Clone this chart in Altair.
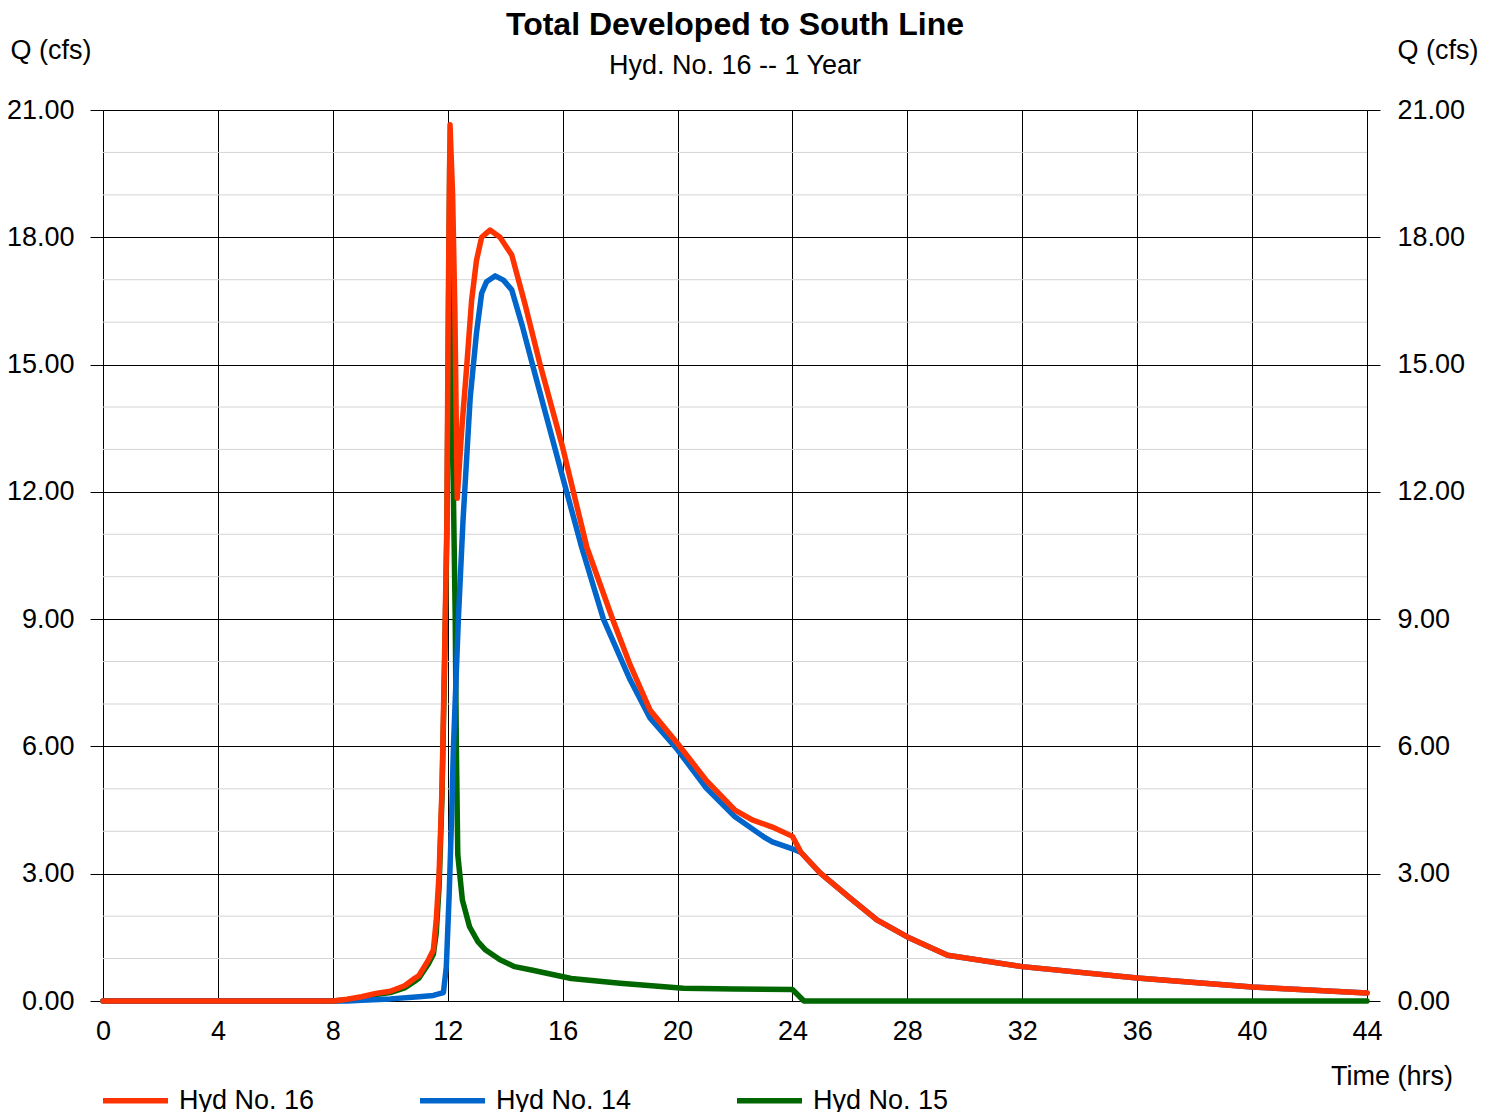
import altair as alt
import pandas as pd

TITLE = "Total Developed to South Line"
SUBTITLE = "Hyd. No. 16 -- 1 Year"
Y_TITLE = "Q (cfs)"
X_TITLE = "Time (hrs)"

SERIES = ["Hyd No. 16", "Hyd No. 14", "Hyd No. 15"]
COLORS = ["#FF3300", "#0066CC", "#006600"]

# Hyd No. 16 (total)
T16 = [0, 8, 8.5, 9, 9.5, 10, 10.5, 10.84, 11, 11.33, 11.5, 11.6, 11.7, 11.8, 11.9,
       11.97, 12.02, 12.08, 12.17, 12.25, 12.33, 12.48, 12.66, 12.83, 13.0, 13.18,
       13.47, 13.82, 14.23, 14.7, 15.2, 16.0, 16.84, 17.75, 18.35, 19.04, 20.0, 21.0, 22.0,
       22.6, 23.3, 24.0, 24.3, 24.96, 26.0, 26.94, 28.0, 29.4, 32.0, 36.0, 40.0, 44.0]
Q16 = [0, 0, 0.04, 0.1, 0.18, 0.23, 0.36, 0.53, 0.6, 0.97, 1.2, 1.9, 3.0, 5.0, 8.5,
       11.3, 16.5, 20.65, 19.0, 16.2, 11.85, 13.4, 14.95, 16.5, 17.45, 18.0,
       18.17, 18.0, 17.58, 16.4, 15.04, 13.05, 10.7, 8.98, 7.92, 6.86, 6.07, 5.2, 4.5,
       4.27, 4.1, 3.88, 3.5, 3.02, 2.43, 1.91, 1.51, 1.08, 0.81, 0.54, 0.33, 0.19]

# Hyd No. 14
T14 = [0, 8.5, 9, 10, 11, 11.5, 11.85, 11.95, 12.05, 12.12, 12.2, 12.37, 12.53, 12.78,
       13.0, 13.18, 13.35, 13.65, 13.94, 14.23, 14.6, 14.97, 16.0, 16.66, 17.42, 18.35, 19.04,
       20.0, 21.0, 22.0, 23.0, 23.3, 24.1, 24.3, 24.96, 26.0, 26.94, 28.0, 29.4, 32.0,
       36.0, 40.0, 44.0]
Q14 = [0, 0, 0.02, 0.05, 0.1, 0.13, 0.2, 0.8, 2.5, 4.0, 6.0, 9.0, 11.3, 14.2,
       15.74, 16.68, 16.95, 17.09, 16.99, 16.76, 15.9, 14.95, 12.35, 10.7, 9.0, 7.57, 6.67,
       5.92, 5.02, 4.34, 3.87, 3.75, 3.56, 3.5, 3.02, 2.43, 1.91, 1.51, 1.08, 0.81,
       0.54, 0.33, 0.19]

# Hyd No. 15
T15 = [0, 8, 8.5, 9, 9.5, 10, 10.5, 10.84, 11, 11.33, 11.5, 11.6, 11.7, 11.8, 11.9,
       11.97, 12.07, 12.12, 12.19, 12.26, 12.3, 12.35, 12.51, 12.76, 13.05, 13.32,
       13.82, 14.33, 15.0, 16.3, 18.0, 20.2, 22.0, 24.0, 24.4, 44.0]
Q15 = [0, 0, 0.03, 0.08, 0.15, 0.2, 0.31, 0.46, 0.54, 0.88, 1.1, 1.6, 2.7, 4.8, 8.2,
       11.0, 19.8, 16.0, 12.3, 9.1, 6.0, 3.45, 2.38, 1.75, 1.4, 1.2,
       0.97, 0.81, 0.72, 0.53, 0.42, 0.3, 0.28, 0.27, 0.0, 0.0]

Y_MAJOR = [0, 3, 6, 9, 12, 15, 18, 21]
Y_MINOR = [1, 2, 4, 5, 7, 8, 10, 11, 13, 14, 16, 17, 19, 20]
X_TICKS = [0, 4, 8, 12, 16, 20, 24, 28, 32, 36, 40, 44]

rows = []
for name, ts, qs in [(SERIES[0], T16, Q16), (SERIES[1], T14, Q14), (SERIES[2], T15, Q15)]:
    for t, q in zip(ts, qs):
        rows.append({"series": name, "t": t, "q": q})
df = pd.DataFrame(rows)

FONT = "Liberation Sans"
FS = 27
W, H = 1264, 891

yscale = alt.Scale(domain=[0, 21], nice=False, zero=False)
xscale = alt.Scale(domain=[0, 44], nice=False, zero=False)

x_axis = alt.Axis(values=X_TICKS, format="d", grid=True, gridColor="#000000", gridWidth=1,
                  ticks=False, domain=False, labelFontSize=FS, labelColor="#000000",
                  labelPadding=17, labelFont=FONT, labelFlush=False, title=X_TITLE,
                  titleFont=FONT, titleFontSize=FS, titleFontWeight="normal",
                  titleColor="#000000", titleAngle=0, titleX=1288.5, titleY=75,
                  titleAlign="center", titleBaseline="middle")

left_axis = alt.Axis(orient="left", values=Y_MAJOR, format=".2f", grid=True,
                     gridColor="#000000", gridWidth=1, tickSize=13, tickColor="#000000",
                     domain=False, labelFontSize=FS, labelColor="#000000", labelPadding=16,
                     labelFont=FONT, labelFlush=False, title=Y_TITLE, titleFont=FONT,
                     titleFontSize=FS, titleFontWeight="normal", titleColor="#000000",
                     titleAngle=0, titleX=-52.5, titleY=-60, titleAlign="center",
                     titleBaseline="middle")

right_axis = alt.Axis(orient="right", values=Y_MAJOR, format=".2f", grid=False,
                      tickSize=13, tickColor="#000000", domain=False, labelFontSize=FS,
                      labelColor="#000000", labelPadding=17, labelFont=FONT,
                      labelFlush=False, title=Y_TITLE, titleFont=FONT, titleFontSize=FS,
                      titleFontWeight="normal", titleColor="#000000", titleAngle=0,
                      titleX=70.5, titleY=-60, titleAlign="center", titleBaseline="middle")

legend = alt.Legend(orient="none", legendX=-3, legendY=955, direction="horizontal",
                    columns=3, title=None, symbolType="stroke", symbolSize=4225,
                    symbolStrokeWidth=5.5, labelFontSize=FS, labelColor="#000000",
                    labelFont=FONT, labelOffset=8, columnPadding=94, labelLimit=400)

color = alt.Color("series:N", scale=alt.Scale(domain=SERIES, range=COLORS), legend=legend)

minor = alt.Chart(pd.DataFrame({"v": Y_MINOR})).mark_rule(
    color="#d4d4d4", strokeWidth=1
).encode(y=alt.Y("v:Q", scale=yscale, axis=right_axis))


def series_layer(name, first):
    return alt.Chart(df).transform_filter(alt.datum.series == name).mark_line(
        strokeWidth=5.5, strokeCap="round", strokeJoin="round"
    ).encode(
        x=alt.X("t:Q", scale=xscale, axis=x_axis),
        y=alt.Y("q:Q", scale=yscale, axis=left_axis if first else None),
        color=color,
        order="t:Q",
    )


green = series_layer(SERIES[2], True)
blue = series_layer(SERIES[1], False)
red = series_layer(SERIES[0], False)

title = alt.Chart(pd.DataFrame({"label": [TITLE]})).mark_text(
    font=FONT, fontSize=32, fontWeight="bold", color="#000000", align="center",
    baseline="middle"
).encode(text="label:N", x=alt.value(632), y=alt.value(-85))

subtitle = alt.Chart(pd.DataFrame({"label": [SUBTITLE]})).mark_text(
    font=FONT, fontSize=FS, color="#000000", align="center", baseline="middle"
).encode(text="label:N", x=alt.value(632), y=alt.value(-44))

chart = alt.layer(minor, green, blue, red, title, subtitle).resolve_axis(
    y="independent"
).properties(
    width=W, height=H,
    autosize=alt.AutoSizeParams(type="none"),
    padding={"left": 95, "top": 102, "right": 121, "bottom": 111},
).configure_view(stroke=None).configure(font=FONT)

chart.save("out.html", embed_options={"renderer": "svg", "actions": False})
